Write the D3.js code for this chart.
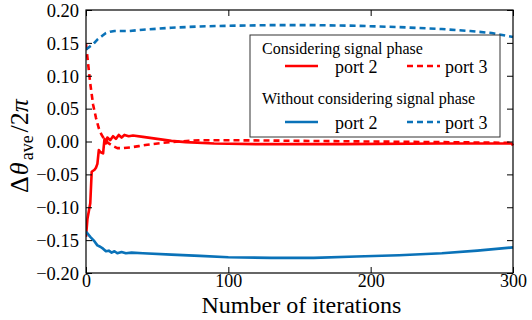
<!DOCTYPE html>
<html>
<head>
<meta charset="utf-8">
<script src="https://cdn.jsdelivr.net/npm/d3@7"></script>
<style>
  html, body { margin: 0; padding: 0; background: #fff; }
  svg { display: block; }
  svg text { font-family: "Liberation Serif", "Times New Roman", Times, "DejaVu Serif", serif; }
</style>
</head>
<body>
<svg id="chart" width="532" height="320"></svg>
<script>
// Average phase offset per iteration, [iteration, value]
const phasePort2 = [[0,-0.145],[1,-0.118],[3,-0.094],[4,-0.046],[6,-0.043],[7,-0.040],[8,-0.034],[9,-0.013],[10,-0.016],[12,-0.018],[13,0.004],[14,-0.003],[15,0.006],[17,0.002],[19,0.008],[21,0.004],[23,0.010],[25,0.006],[27,0.010],[30,0.008],[33,0.009],[40,0.007],[50,0.004],[60,0.001],[70,-0.001],[90,-0.003],[120,-0.004],[180,-0.004],[250,-0.003],[299,-0.003],[300,-0.006]];
const phasePort3 = [[0,0.148],[1,0.128],[2,0.108],[3,0.088],[4,0.072],[5,0.056],[7,0.036],[9,0.020],[11,0.010],[13,0.003],[16,-0.003],[19,-0.007],[22,-0.010],[26,-0.010],[31,-0.009],[37,-0.007],[43,-0.005],[54,-0.002],[65,0.000],[80,0.002],[100,0.002],[150,0.001],[200,0.000],[250,-0.001],[300,-0.002]];
const noPhasePort2 = [[0,-0.137],[3,-0.145],[6,-0.152],[8,-0.158],[10,-0.160],[12,-0.163],[14,-0.167],[16,-0.166],[18,-0.169],[20,-0.167],[22,-0.170],[25,-0.168],[28,-0.170],[32,-0.169],[40,-0.170],[60,-0.172],[80,-0.174],[100,-0.176],[130,-0.177],[160,-0.177],[190,-0.175],[220,-0.173],[250,-0.170],[275,-0.166],[300,-0.161]];
const noPhasePort3 = [[0,0.140],[3,0.145],[5,0.148],[8,0.155],[11,0.160],[14,0.165],[17,0.167],[20,0.168],[25,0.168],[30,0.168],[40,0.170],[60,0.173],[80,0.175],[100,0.176],[130,0.177],[160,0.177],[190,0.176],[220,0.174],[250,0.171],[270,0.168],[285,0.165],[300,0.159]];

const xTicks = [0, 100, 200, 300];
const yTicks = [-0.20, -0.15, -0.10, -0.05, 0.00, 0.05, 0.10, 0.15, 0.20];
const groupTitles = ["Considering signal phase", "Without considering signal phase"];
const portNames = ["port 2", "port 3"];

const RED = "#ff0000", BLUE = "#0a72b8";
const DASH = "6,4";
const SERIF = "'Liberation Serif', 'Times New Roman', Times, 'DejaVu Serif', serif";

const svg = d3.select("#chart").attr("font-family", SERIF);
const m = { left: 86, right: 513, top: 10, bottom: 273 };

const x = d3.scaleLinear().domain([0, 300]).range([m.left, m.right]);
const y = d3.scaleLinear().domain([-0.20, 0.20]).range([m.bottom, m.top]);

const fmtY = v => d3.format(".2f")(v).replace("-", "\u2212");

// curves
const line = d3.line().x(d => x(d[0])).y(d => y(d[1]));
const series = [
  { data: phasePort2, color: RED, dash: null },
  { data: phasePort3, color: RED, dash: DASH },
  { data: noPhasePort2, color: BLUE, dash: null },
  { data: noPhasePort3, color: BLUE, dash: DASH }
];
svg.append("clipPath").attr("id", "plotclip").append("rect")
  .attr("x", m.left).attr("y", m.top - 2).attr("width", m.right - m.left + 2).attr("height", m.bottom - m.top + 4);
const plot = svg.append("g").attr("clip-path", "url(#plotclip)");
series.forEach(s => {
  plot.append("path").datum(s.data)
    .attr("d", line)
    .attr("fill", "none")
    .attr("stroke", s.color)
    .attr("stroke-width", 2.6)
    .attr("stroke-linejoin", "round")
    .attr("stroke-dasharray", s.dash);
});

// axes with inward ticks on all four sides
const tickLen = 6;
const axB = d3.axisBottom(x).tickValues(xTicks).tickSizeInner(-tickLen).tickSizeOuter(0).tickFormat(d3.format("d"));
const axT = d3.axisTop(x).tickValues(xTicks).tickSizeInner(-tickLen).tickSizeOuter(0).tickFormat("");
const axL = d3.axisLeft(y).tickValues(yTicks).tickSizeInner(-tickLen).tickSizeOuter(0).tickPadding(7).tickFormat(fmtY);
const axR = d3.axisRight(y).tickValues(yTicks).tickSizeInner(-tickLen).tickSizeOuter(0).tickFormat("");

function styleAxis(g) {
  g.attr("font-family", SERIF);
  g.select(".domain").remove();
  g.selectAll(".tick line").attr("stroke", "#000").attr("stroke-width", 1);
  g.selectAll(".tick text").attr("fill", "#000");
}
svg.append("g").attr("transform", `translate(0,${m.bottom})`).call(axB).call(styleAxis)
  .selectAll(".tick text").attr("font-size", 18).attr("y", 14).attr("dy", 0);
svg.append("g").attr("transform", `translate(0,${m.top})`).call(axT).call(styleAxis);
svg.append("g").attr("transform", `translate(${m.left},0)`).call(axL).call(styleAxis)
  .selectAll(".tick text").attr("font-size", 18.5).attr("dy", "0.34em");
svg.append("g").attr("transform", `translate(${m.right},0)`).call(axR).call(styleAxis);

// frame
svg.append("rect").attr("x", m.left).attr("y", m.top)
  .attr("width", m.right - m.left).attr("height", m.bottom - m.top)
  .attr("fill", "none").attr("stroke", "#000").attr("stroke-width", 1.2);

// axis titles
svg.append("text").attr("x", (m.left + m.right) / 2 + 2).attr("y", 313)
  .attr("text-anchor", "middle").attr("font-size", 24).text("Number of iterations");

const yl = svg.append("text")
  .attr("transform", "translate(28,146) rotate(-90)")
  .attr("text-anchor", "middle").attr("font-size", 26);
yl.append("tspan").text("\u0394");
yl.append("tspan").attr("font-style", "italic").attr("dx", 1).text("\u03b8");
yl.append("tspan").attr("dy", 5).attr("dx", 2).attr("font-size", 18).text("ave");
yl.append("tspan").attr("dy", -5).attr("dx", 3).text("/2");
yl.append("tspan").attr("font-style", "italic").text("\u03c0");

// legend
const lg = svg.append("g");
lg.append("rect").attr("x", 250).attr("y", 35).attr("width", 250).attr("height", 102)
  .attr("fill", "#fff").attr("stroke", "#333").attr("stroke-width", 1);
const groups = [
  { title: groupTitles[0], titleY: 54, rowY: 66, color: RED },
  { title: groupTitles[1], titleY: 104, rowY: 122, color: BLUE }
];
groups.forEach(g => {
  lg.append("text").attr("x", 262).attr("y", g.titleY).attr("font-size", 16).text(g.title);
  [[285, 335, null], [407, 445, DASH]].forEach((h, i) => {
    lg.append("line").attr("x1", h[0]).attr("x2", h[0] + 33)
      .attr("y1", g.rowY).attr("y2", g.rowY)
      .attr("stroke", g.color).attr("stroke-width", 2.6)
      .attr("stroke-dasharray", h[2]);
    lg.append("text").attr("x", h[1]).attr("y", g.rowY + 7)
      .attr("font-size", 18).text(portNames[i]);
  });
});
</script>
</body>
</html>
